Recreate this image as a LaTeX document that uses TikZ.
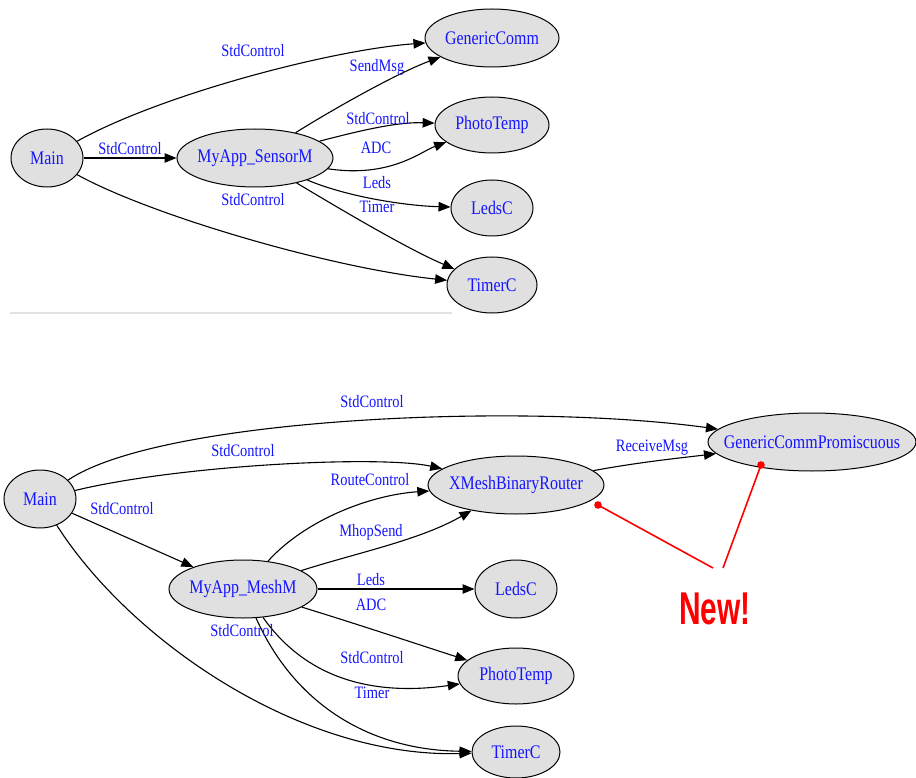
\documentclass[tikz,border=0pt]{standalone}
\usepackage{fontspec}
\setmainfont{Liberation Serif}
\newfontfamily\graphfont[FakeStretch=0.83]{Liberation Serif}
\newfontfamily\calloutfont{Liberation Sans}
\usetikzlibrary{shapes.geometric,arrows.meta}

\definecolor{nodegray}{HTML}{E0E0E0}
\definecolor{lblblue}{HTML}{1414FF}
\definecolor{rulegray}{HTML}{E2E2E2}
\definecolor{callred}{HTML}{FF0000}

% zero-width box so the ellipse size is set only by minimum width/height
\newcommand\nt[1]{\makebox[0pt]{#1}}

\tikzset{
  comp/.style={ellipse, draw=black, line width=1pt, fill=nodegray,
    inner sep=0pt, text=lblblue, font=\graphfont\fontsize{19.2}{21}\selectfont},
  wire/.style={draw=black, line width=1.1pt,
    -{Triangle[length=12pt,width=9.5pt]}},
  lbl/.style={inner sep=0pt, text=lblblue, font=\graphfont\fontsize{17.4}{19}\selectfont},
  callout/.style={draw=callred, line width=1.6pt},
  newtag/.style={inner sep=0pt, text=callred,
    font=\calloutfont\bfseries\fontsize{46}{46}\selectfont},
}

\begin{document}
\begin{tikzpicture}[x=1pt,y=-1pt]
\useasboundingbox (0,0) rectangle (916,778);

% ---------------- upper wiring: MyApp_SensorM ----------------
\draw[rulegray, line width=2pt] (10,313) -- (452,313);

\node[comp, minimum width=72pt,  minimum height=58pt] (mainA)  at (47,158)  {\nt{Main}};
\node[comp, minimum width=156pt, minimum height=58pt] (sensor) at (255,158) {\nt{MyApp\_SensorM}};
\node[comp, minimum width=134pt, minimum height=58pt] (gc)     at (492,38)  {\nt{GenericComm}};
\node[comp, minimum width=114pt, minimum height=56pt] (ptA)    at (492,125) {\nt{PhotoTemp}};
\node[comp, minimum width=82pt,  minimum height=56pt] (ledsA)  at (492,208) {\nt{LedsC}};
\node[comp, minimum width=90pt,  minimum height=56pt] (timerA) at (492,285) {\nt{TimerC}};

\draw[wire] (mainA) .. controls (160,95) and (330,50) .. (gc);
\draw[wire] (mainA) -- (sensor);
\draw[wire] (mainA) .. controls (150,215) and (330,268) .. (timerA);
\draw[wire] (sensor) .. controls (340,105) and (400,72) .. (gc);
\draw[wire] (sensor) .. controls (370,128) and (400,122) .. (ptA);
\draw[wire] (sensor) .. controls (390,178) and (420,152) .. (ptA);
\draw[wire] (sensor) .. controls (350,198) and (410,206) .. (ledsA);
\draw[wire] (sensor) .. controls (350,215) and (410,250) .. (timerA);

\node[lbl] (la1) at (253,51)  {StdControl};
\node[lbl] (la2) at (377,67)  {SendMsg};
\node[lbl] (la3) at (378,119) {StdControl};
\node[lbl] (la4) at (376,148) {ADC};
\node[lbl] (la5) at (377,183) {Leds};
\node[lbl] (la6) at (377,207) {Timer};
\node[lbl] (la7) at (130,149) {StdControl};
\node[lbl] (la8) at (253,200) {StdControl};

% ---------------- lower wiring: MyApp_MeshM ----------------
\node[comp, minimum width=72pt,  minimum height=58pt] (mainB)  at (40,499)  {\nt{Main}};
\node[comp, minimum width=176pt, minimum height=58pt] (xmesh)  at (516,485) {\nt{XMeshBinaryRouter}};
\node[comp, minimum width=208pt, minimum height=58pt] (gcp)    at (812,442) {\nt{GenericCommPromiscuous}};
\node[comp, minimum width=148pt, minimum height=58pt] (meshm)  at (243,589) {\nt{MyApp\_MeshM}};
\node[comp, minimum width=82pt,  minimum height=58pt] (ledsB)  at (516,589) {\nt{LedsC}};
\node[comp, minimum width=116pt, minimum height=56pt] (ptB)    at (516,676) {\nt{PhotoTemp}};
\node[comp, minimum width=88pt,  minimum height=52pt] (timerB) at (516,752) {\nt{TimerC}};

\draw[wire] (mainB) .. controls (160,418) and (520,402) .. (gcp);
\draw[wire] (mainB) .. controls (180,465) and (380,455) .. (xmesh);
\draw[wire] (mainB) -- (meshm);
\draw[wire] (mainB) .. controls (130,640) and (300,758) .. (timerB);
\draw[wire] (meshm) .. controls (305,520) and (370,495) .. (xmesh);
\draw[wire] (meshm) .. controls (360,552) and (420,540) .. (xmesh);
\draw[wire] (meshm) -- (ledsB);
\draw[wire] (meshm) .. controls (360,625) and (420,645) .. (ptB);
\draw[wire] (meshm) .. controls (300,670) and (360,698) .. (ptB);
\draw[wire] (meshm) .. controls (295,705) and (370,750) .. (timerB);
\draw[wire] (xmesh) .. controls (640,462) and (680,458) .. (gcp);

\node[lbl] (lb1)  at (372,402) {StdControl};
\node[lbl] (lb2)  at (243,451) {StdControl};
\node[lbl] (lb3)  at (370,480) {RouteControl};
\node[lbl] (lb4)  at (122,509) {StdControl};
\node[lbl] (lb5)  at (371,532) {MhopSend};
\node[lbl] (lb6)  at (652,448) {ReceiveMsg};
\node[lbl] (lb7)  at (371,580) {Leds};
\node[lbl] (lb8)  at (371,605) {ADC};
\node[lbl] (lb9)  at (242,631) {StdControl};
\node[lbl] (lb10) at (372,658) {StdControl};
\node[lbl] (lb11) at (372,693) {Timer};

% ---------------- callout for the added components ----------------
\node[newtag] (newtag) at (715,609) {\scalebox{0.65}[1]{New!}};
\coordinate (dotA) at (598,505);
\coordinate (dotB) at (761,465);
\coordinate (tipA) at (713,568);
\coordinate (tipB) at (723,568);
\draw[callout] (dotA) -- (tipA);
\draw[callout] (dotB) -- (tipB);
\fill[callred] (dotA) circle (3.8pt);
\fill[callred] (dotB) circle (3.8pt);
\end{tikzpicture}
\end{document}
